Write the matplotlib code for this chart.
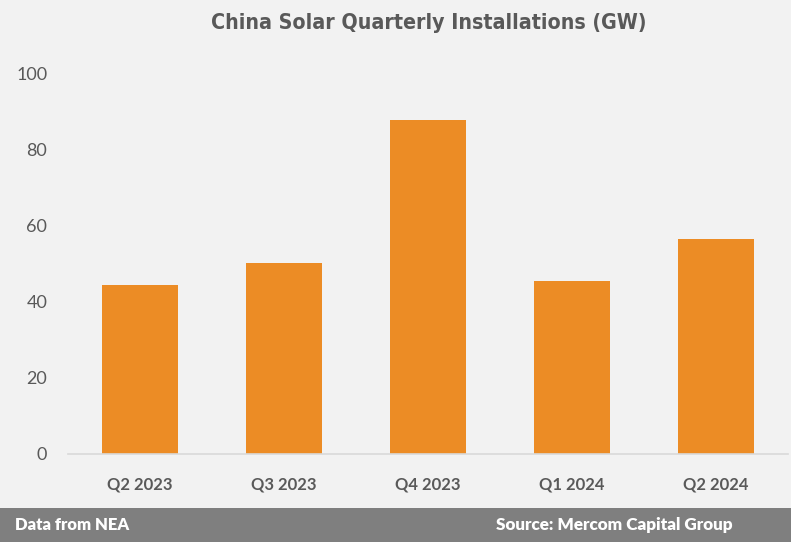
import matplotlib
matplotlib.use('Agg')
from matplotlib import pyplot as plt

# data
quarters = ['Q2 2023', 'Q3 2023', 'Q4 2023', 'Q1 2024', 'Q2 2024']
installs_gw = [44.5, 50.3, 87.9, 45.5, 56.6]

bg = '#f2f2f2'
bar_color = '#ec8c25'
text_grey = '#595959'

fig = plt.figure(figsize=(7.91, 5.42), dpi=100, facecolor=bg)
ax = fig.add_axes([68/791, 1 - 454/542, 720/791, 380/542])
ax.set_facecolor(bg)

ax.bar(range(len(quarters)), installs_gw, width=0.53, color=bar_color)
ax.set_xlim(-0.5, len(quarters) - 0.5)
ax.set_ylim(0, 100)
ax.set_yticks([0, 20, 40, 60, 80, 100])
ax.set_xticks(range(len(quarters)))
ax.set_xticklabels(quarters, fontsize=12, fontweight='bold', color=text_grey, family='Lato')
for lbl in ax.get_yticklabels():
    lbl.set_fontsize(13)
    lbl.set_color(text_grey)
    lbl.set_family('Lato')
ax.tick_params(axis='both', length=0)
ax.tick_params(axis='x', pad=16)
ax.tick_params(axis='y', pad=15)

for side in ['top', 'right', 'left']:
    ax.spines[side].set_visible(False)
ax.spines['bottom'].set_color('#d9d9d9')
ax.spines['bottom'].set_linewidth(1.2)

fig.text(0.542, 1 - 23/542, 'China Solar Quarterly Installations (GW)', ha='center', va='center',
         fontsize=15.3, fontweight='bold', fontstretch='condensed', color=text_grey, family='DejaVu Sans')

# footer band
band = fig.add_axes([0, 0, 1, 34/542])
band.set_facecolor('#7f7f7f')
band.set_xticks([])
band.set_yticks([])
for s in band.spines.values():
    s.set_visible(False)
band.text(15/791, 0.5, 'Data from NEA', color='white', fontsize=12, fontweight='heavy',
          va='center', ha='left', family='Lato', transform=band.transAxes)
band.text(733/791, 0.5, 'Source: Mercom Capital Group', color='white', fontsize=12.3, fontweight='heavy',
          va='center', ha='right', family='Lato', transform=band.transAxes)

fig.savefig('out.png', dpi=100, facecolor=bg)
